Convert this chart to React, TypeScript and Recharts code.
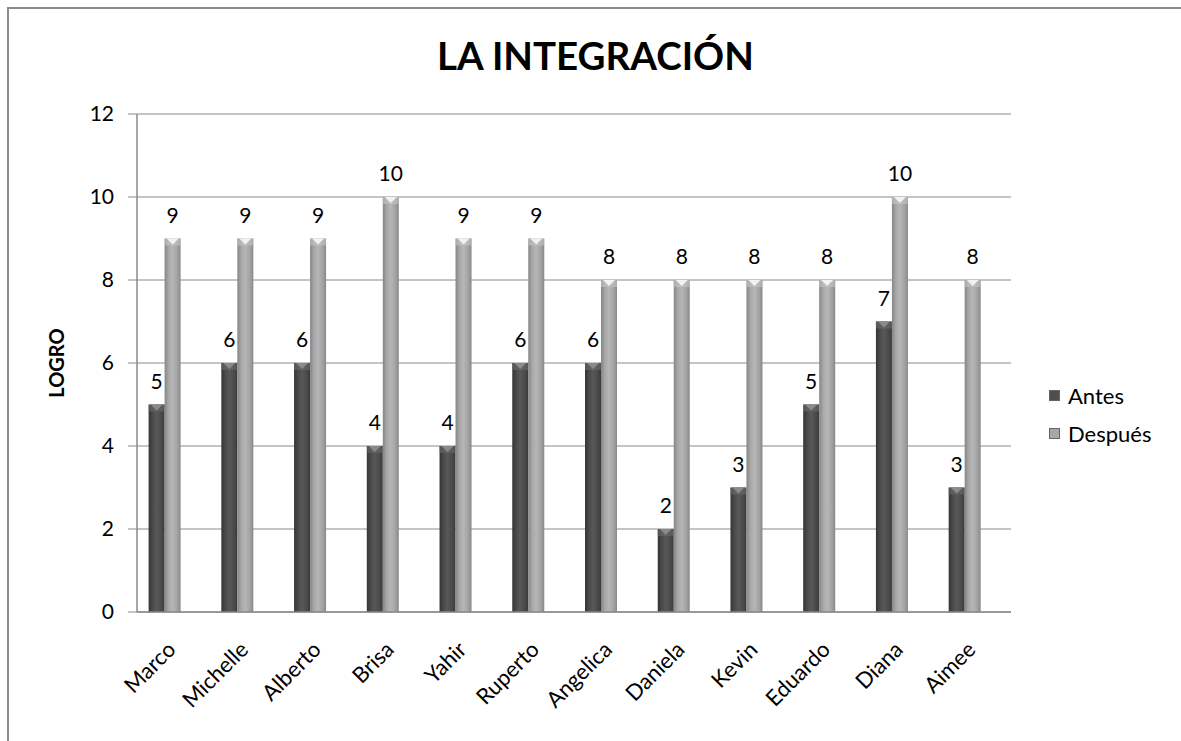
import React from 'react';
import { BarChart, Bar, XAxis, YAxis, CartesianGrid, Legend, LabelList, Label } from 'recharts';

const categories = ['Marco', 'Michelle', 'Alberto', 'Brisa', 'Yahir', 'Ruperto', 'Angelica', 'Daniela', 'Kevin', 'Eduardo', 'Diana', 'Aimee'];
const antes = [5, 6, 6, 4, 4, 6, 6, 2, 3, 5, 7, 3];
const despues = [9, 9, 9, 10, 9, 9, 8, 8, 8, 8, 10, 8];
const yTicks = [0, 2, 4, 6, 8, 10, 12];

const data = categories.map((name, i) => ({ name, Antes: antes[i], 'Después': despues[i] }));

const FONT = 'Lato, "Open Sans", sans-serif';

const BevelBar = (props: any) => {
  const { x, y, width, height, dark } = props;
  if (!height || height <= 0) return null;
  const id = dark ? 'gradDark' : 'gradLight';
  const t = Math.min(7, height);
  return (
    <g>
      <defs>
        <linearGradient id="gradDark" x1="0" y1="0" x2="1" y2="0">
          <stop offset="0%" stopColor="#343434" />
          <stop offset="25%" stopColor="#4a4a4a" />
          <stop offset="50%" stopColor="#585858" />
          <stop offset="80%" stopColor="#4a4a4a" />
          <stop offset="100%" stopColor="#3a3a3a" />
        </linearGradient>
        <linearGradient id="gradLight" x1="0" y1="0" x2="1" y2="0">
          <stop offset="0%" stopColor="#858585" />
          <stop offset="25%" stopColor="#a8a8a8" />
          <stop offset="50%" stopColor="#b6b6b6" />
          <stop offset="80%" stopColor="#a2a2a2" />
          <stop offset="100%" stopColor="#888888" />
        </linearGradient>
      </defs>
      <rect x={x} y={y} width={width} height={height} fill={`url(#${id})`} />
      <rect x={x} y={y} width={width} height={t} fill={dark ? '#6a6a6a' : '#c4c4c4'} opacity={0.6} />
      <polygon
        points={`${x + 2},${y} ${x + width - 2},${y} ${x + width / 2},${y + t - 1}`}
        fill={dark ? '#8a8a8a' : '#f2f2f2'}
      />
    </g>
  );
};

const XTick = (props: any) => {
  const { x, y, payload } = props;
  const ax = x + 12;
  const ay = y + 39;
  return (
    <text
      x={ax}
      y={ay}
      textAnchor="end"
      transform={`rotate(-45, ${ax}, ${ay})`}
      fontFamily={FONT}
      fontSize={22}
      fill="#000"
    >
      {payload.value}
    </text>
  );
};

const LegendContent = () => {
  const items = [
    { label: 'Antes', color: '#4e4e4e' },
    { label: 'Después', color: '#a8a8a8' },
  ];
  return (
    <div style={{ fontFamily: FONT, fontSize: 22, color: '#000' }}>
      {items.map((it) => (
        <div key={it.label} style={{ height: 38, display: 'flex', alignItems: 'center' }}>
          <span
            style={{
              display: 'inline-block',
              width: 11,
              height: 11,
              background: it.color,
              border: '1px solid #666',
              boxSizing: 'border-box',
              marginRight: 8,
            }}
          />
          <span>{it.label}</span>
        </div>
      ))}
    </div>
  );
};

export default function App() {
  return (
    <div style={{ position: 'absolute', left: 0, top: 0, width: 1181, height: 741, background: '#fff' }}>
      <div
        style={{
          position: 'absolute',
          left: 7,
          top: 7,
          width: 1181 - 7,
          height: 741 - 7,
          borderLeft: '2px solid #8c8c8c',
          borderTop: '2px solid #8c8c8c',
          boxSizing: 'border-box',
        }}
      />
      <div
        style={{
          position: 'absolute',
          left: 0,
          top: 32,
          width: 1191,
          textAlign: 'center',
          fontFamily: FONT,
          fontWeight: 700,
          fontSize: 38.5,
          lineHeight: 1.2,
          color: '#000',
        }}
      >
        LA INTEGRACIÓN
      </div>
      <div style={{ position: 'absolute', left: 0, top: 0 }}>
        <BarChart
          width={1181}
          height={741}
          data={data}
          margin={{ top: 114, right: 40, bottom: 69, left: 47 }}
          barGap={0}
          barSize={16}
        >
          <CartesianGrid horizontal={true} vertical={false} stroke="#8a8a8a" strokeWidth={1} />
          <XAxis
            dataKey="name"
            height={60}
            tick={<XTick />}
            tickLine={false}
            tickSize={0}
            tickMargin={0}
            axisLine={{ stroke: '#8a8a8a', strokeWidth: 1.5 }}
            interval={0}
            padding={{ left: -8.4, right: 9.6 }}
          />
          <YAxis
            width={90}
            domain={[0, 12]}
            ticks={yTicks}
            interval={0}
            tickSize={9}
            tickMargin={14}
            tickLine={{ stroke: '#8a8a8a' }}
            axisLine={{ stroke: '#8a8a8a', strokeWidth: 1.5 }}
            tick={{ fontFamily: FONT, fontSize: 21, fill: '#000' }}
          >
            <Label
              content={(p: any) => {
                const vb = p.viewBox || {};
                const cx = (vb.x || 0) + 9;
                const cy = (vb.y || 0) + (vb.height || 0) / 2;
                return (
                  <text
                    x={cx}
                    y={cy}
                    transform={`rotate(-90, ${cx}, ${cy})`}
                    textAnchor="middle"
                    dominantBaseline="central"
                    fontFamily={FONT}
                    fontWeight={700}
                    fontSize={20}
                    fill="#000"
                  >
                    LOGRO
                  </text>
                );
              }}
            />
          </YAxis>
          <Legend
            layout="vertical"
            verticalAlign="middle"
            align="right"
            wrapperStyle={{ position: 'absolute', left: 1049, top: 376, width: 130 }}
            content={<LegendContent />}
          />
          <Bar dataKey="Antes" isAnimationActive={false} shape={(p: any) => <BevelBar {...p} dark />}>
            <LabelList dataKey="Antes" position="top" offset={16} style={{ fontFamily: FONT, fontSize: 21, fill: '#000' }} />
          </Bar>
          <Bar dataKey="Después" isAnimationActive={false} shape={(p: any) => <BevelBar {...p} />}>
            <LabelList dataKey="Después" position="top" offset={16} style={{ fontFamily: FONT, fontSize: 21, fill: '#000' }} />
          </Bar>
        </BarChart>
      </div>
    </div>
  );
}
